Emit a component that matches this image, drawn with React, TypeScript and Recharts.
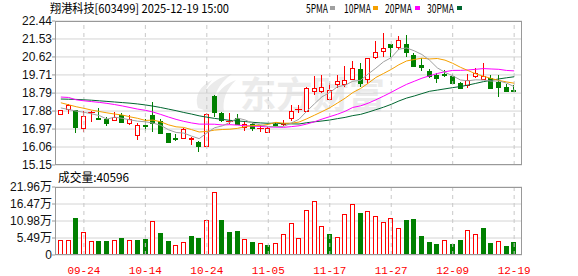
import { ComposedChart, Bar, Line, XAxis, YAxis, CartesianGrid, ReferenceLine } from "recharts";

// 翔港科技 603499 daily candles, 2025-09-19 .. 2025-12-19
const dates = [
  "09-19", "09-22", "09-23", "09-24", "09-25", "09-26", "09-29", "09-30", "10-09", "10-10",
  "10-13", "10-14", "10-15", "10-16", "10-17", "10-20", "10-21", "10-22", "10-23", "10-24",
  "10-27", "10-28", "10-29", "10-30", "10-31", "11-03", "11-04", "11-05", "11-06", "11-07",
  "11-10", "11-11", "11-12", "11-13", "11-14", "11-17", "11-18", "11-19", "11-20", "11-21",
  "11-24", "11-25", "11-26", "11-27", "11-28", "12-01", "12-02", "12-03", "12-04", "12-05",
  "12-08", "12-09", "12-10", "12-11", "12-12", "12-15", "12-16", "12-17", "12-18", "12-19",
];
const opens = [
  17.72, 17.98, 17.93, 17.01, 17.83, 17.52, 17.46, 17.43, 17.7, 17.29,
  16.67, 17.2, 17.68, 17.39, 16.75, 16.51, 16.53, 16.48, 16.33, 16.13,
  18.66, 17.78, 17.38, 17.51, 17.06, 17.22, 17.0, 16.83, 17.21, 17.24,
  17.51, 17.96, 17.88, 18.9, 18.91, 18.48, 19.25, 19.25, 19.49, 19.99,
  19.49, 20.6, 20.94, 21.28, 21.14, 21.26, 20.72, 20.2, 19.91, 19.71,
  19.74, 19.66, 19.32, 19.2, 19.67, 19.49, 19.57, 19.37, 19.11, 18.96,
];
const highs = [
  17.95, 18.25, 17.95, 17.88, 17.86, 18.02, 17.59, 17.83, 17.8, 17.66,
  17.26, 17.48, 18.32, 17.46, 16.78, 16.7, 17.04, 16.58, 16.35, 17.78,
  18.69, 17.85, 17.78, 17.73, 17.33, 17.29, 17.16, 17.05, 17.31, 17.43,
  18.19, 18.19, 19.1, 19.66, 19.71, 19.32, 19.71, 20.18, 20.43, 20.33,
  20.58, 21.44, 21.85, 21.3, 21.7, 21.73, 20.8, 20.55, 19.99, 19.82,
  19.96, 19.74, 19.37, 19.76, 20.05, 20.33, 19.71, 19.71, 19.23, 19.2,
];
const lows = [
  17.7, 17.72, 16.75, 16.8, 17.33, 17.46, 17.14, 17.41, 17.26, 17.17,
  16.41, 16.89, 16.83, 16.75, 16.3, 16.36, 16.47, 16.16, 15.79, 16.1,
  17.6, 17.34, 17.25, 17.18, 16.89, 16.89, 16.83, 16.8, 17.09, 17.14,
  17.38, 17.77, 17.85, 18.69, 18.8, 18.44, 19.03, 19.11, 19.45, 19.08,
  19.25, 20.5, 20.63, 20.63, 20.98, 20.63, 20.11, 19.92, 19.54, 19.32,
  19.59, 19.23, 18.98, 19.03, 19.54, 19.47, 18.98, 18.61, 18.89, 18.83,
];
const closes = [
  17.93, 18.19, 17.09, 17.65, 17.84, 17.5, 17.29, 17.59, 17.34, 17.46,
  17.17, 17.13, 17.26, 16.78, 16.33, 16.49, 16.97, 16.5, 16.13, 17.73,
  17.85, 17.43, 17.4, 17.22, 17.24, 17.01, 17.03, 17.01, 17.19, 17.27,
  17.88, 17.98, 19.03, 19.06, 19.08, 18.95, 19.42, 19.45, 20.05, 19.32,
  20.55, 20.89, 21.06, 21.11, 21.46, 20.86, 20.16, 20.12, 19.66, 19.54,
  19.72, 19.29, 19.06, 19.45, 19.79, 19.66, 19.03, 19.11, 18.91, 18.88,
];
// 成交量, 万
const volumes = [
  4.82, 4.82, 11.9, 7.4, 4.5, 4.5, 4.5, 4.82, 5.47, 4.82,
  4.82, 5.15, 10.83, 7.08, 4.5, 3.11, 4.18, 6.11, 5.47, 11.15,
  20.47, 11.15, 7.4, 7.72, 5.04, 4.18, 3.75, 3.22, 3.86, 6.75,
  10.29, 5.36, 14.69, 17.37, 9.33, 6.75, 5.68, 13.4, 16.6, 13.6,
  14.36, 12.54, 10.61, 11.79, 8.58, 11.26, 11.58, 6.11, 4.18, 3.54,
  4.72, 3.54, 4.82, 7.93, 6.75, 8.68, 3.86, 4.4, 2.89, 4.06,
];
// MA values for bars whose window reaches back before 09-19
const ma5Head = [18.04, 17.96, 17.88, 17.82];
const ma10Head = [18.3, 18.2, 18.1, 18.02, 17.93, 17.86, 17.79, 17.73, 17.68];
const ma20Head = [
  18.59, 18.57, 18.45, 18.4, 18.36, 18.32, 18.27, 18.21, 18.14, 18.06,
  17.98, 17.92, 17.83, 17.71, 17.58, 17.46, 17.36, 17.28, 17.22,
];
const ma30Head = [
  18.49, 18.48, 18.47, 18.45, 18.43, 18.4, 18.37, 18.34, 18.31, 18.28,
  18.24, 18.19, 18.13, 18.06, 17.98, 17.9, 17.81, 17.73, 17.64, 17.57,
  17.51, 17.46, 17.41, 17.38, 17.35, 17.31, 17.28, 17.26, 17.27,
];

const priceTicks = [15.15, 16.06, 16.97, 17.88, 18.79, 19.71, 20.62, 21.53, 22.44];
const volTicks = [0, 5.49, 10.98, 16.47, 21.96];
const labelDates = ["09-24", "10-14", "10-24", "11-05", "11-17", "11-27", "12-09", "12-19"];

const RED = "#ff0000";
const GREEN = "#008000";
const MA_COLORS = { ma5: "#a0a0a0", ma10: "#f5a000", ma20: "#ff00ff", ma30: "#006630" };
const GRID = "#d4d4d4";
const BORDER = "#999";

function movingAvg(n: number, head: number[]) {
  return closes.map((_, i) => {
    if (i < n - 1) return head[i];
    let s = 0;
    for (let k = i - n + 1; k <= i; k++) s += closes[k];
    return s / n;
  });
}

const ma5 = movingAvg(5, ma5Head);
const ma10 = movingAvg(10, ma10Head);
const ma20 = movingAvg(20, ma20Head);
const ma30 = movingAvg(30, ma30Head);

const rows = dates.map((d, i) => ({
  date: d,
  open: opens[i],
  high: highs[i],
  low: lows[i],
  close: closes[i],
  vol: volumes[i],
  volUp: i === 0 ? closes[i] >= opens[i] : closes[i] >= closes[i - 1],
  ma5: ma5[i],
  ma10: ma10[i],
  ma20: ma20[i],
  ma30: ma30[i],
}));

function Candle(props: any) {
  const { x, y, width, height, payload } = props;
  if (x == null || !payload) return null;
  const { open, close, high, low } = payload;
  const k = high > low ? height / (high - low) : 0;
  const py = (v: number) => y + (high - v) * k;
  const mid = Math.floor(x + width / 2);
  const cx = mid + 0.5;
  const up = close >= open;
  const c = up ? RED : GREEN;
  const top = Math.round(py(Math.max(open, close)));
  const bot = Math.round(py(Math.min(open, close)));
  const left = mid - 2;
  let body;
  if (bot - top < 1) {
    body = <line x1={left - 1} x2={left + 6} y1={top + 0.5} y2={top + 0.5} stroke={c} />;
  } else if (up) {
    body = <rect x={left + 0.5} y={top + 0.5} width={4} height={bot - top} fill="#fff" stroke={c} />;
  } else {
    body = <rect x={left} y={top} width={5} height={bot - top + 1} fill={c} />;
  }
  return (
    <g shapeRendering="crispEdges">
      <line x1={cx} x2={cx} y1={Math.round(y)} y2={top} stroke={c} />
      <line x1={cx} x2={cx} y1={bot} y2={Math.round(y + height)} stroke={c} />
      {body}
    </g>
  );
}

function VolBar(props: any) {
  const { x, y, width, height, payload } = props;
  if (x == null || !payload) return null;
  const left = Math.floor(x + width / 2) - 2;
  const top = Math.round(y);
  const h = Math.round(y + height) - top;
  if (payload.volUp) {
    return <rect x={left + 0.5} y={top + 0.5} width={4} height={h - 1} fill="#fff" stroke={RED} shapeRendering="crispEdges" />;
  }
  return <rect x={left} y={top} width={5} height={h} fill={GREEN} shapeRendering="crispEdges" />;
}

const axisFont = { fontSize: 12, fill: "#111", fontFamily: "'Liberation Sans', Arial, 'Noto Sans CJK SC', sans-serif" };

export default function App() {
  return (
    <div style={{ position: "absolute", left: 0, top: 0, width: 578, height: 276, background: "#fff", overflow: "hidden" }}>
      {/* watermark */}
      <svg width={578} height={276} style={{ position: "absolute", left: 0, top: 0 }}>
        <g fill="#ebebeb">
          <path d="M204 112 C198 96 208 80 232 74 C218 84 212 96 214 112 Z" />
          <path d="M214 112 C212 98 220 86 236 80 C226 90 222 100 224 112 Z" />
          <path d="M198 108 C194 96 200 86 212 80 C204 90 202 98 204 110 Z" />
        </g>
        <text x={240} y={108} fontSize={36} fontWeight={700} fill="#ebebeb" textLength={145} lengthAdjust="spacingAndGlyphs"
          fontFamily="'Noto Sans CJK SC', sans-serif">东方财富</text>
      </svg>

      <div style={{ position: "absolute", left: 0, top: 0 }}>
        <ComposedChart width={578} height={174} data={rows} margin={{ top: 21, right: 56, bottom: 9, left: 0 }}>
          <CartesianGrid vertical={false} stroke={GRID} />
          <XAxis dataKey="date" hide padding={{ left: 2, right: 4 }} />
          <YAxis
            domain={[15.15, 22.44]}
            ticks={priceTicks}
            interval={0}
            allowDataOverflow
            width={55}
            axisLine={false}
            tickSize={3}
            tickMargin={0}
            tickLine={{ stroke: BORDER }}
            tick={axisFont}
            tickFormatter={(v: number) => v.toFixed(2)}
          />
          {labelDates.map((d) => (
            <ReferenceLine key={d} x={d} stroke="#c8c8c8" strokeDasharray="4 4" />
          ))}
          <Bar dataKey={(r: any) => [r.low, r.high]} barSize={5} shape={(p: any) => <Candle {...p} />} isAnimationActive={false} />
          <Line dataKey="ma30" stroke={MA_COLORS.ma30} dot={false} strokeWidth={1} isAnimationActive={false} />
          <Line dataKey="ma20" stroke={MA_COLORS.ma20} dot={false} strokeWidth={1} isAnimationActive={false} />
          <Line dataKey="ma10" stroke={MA_COLORS.ma10} dot={false} strokeWidth={1} isAnimationActive={false} />
          <Line dataKey="ma5" stroke={MA_COLORS.ma5} dot={false} strokeWidth={1} isAnimationActive={false} />
        </ComposedChart>
      </div>

      <div style={{ position: "absolute", left: 0, top: 170 }}>
        <ComposedChart width={578} height={106} data={rows} margin={{ top: 17, right: 56, bottom: 0, left: 0 }}>
          <CartesianGrid vertical={false} stroke={GRID} />
          <XAxis
            dataKey="date"
            padding={{ left: 2, right: 4 }}
            ticks={labelDates}
            interval={0}
            height={21}
            axisLine={false}
            tickLine={false}
            tickMargin={5}
            tick={{ fontSize: 11, fill: RED, fontFamily: "'Liberation Mono', monospace" }}
          />
          <YAxis
            domain={[0, 21.96]}
            ticks={volTicks}
            interval={0}
            allowDataOverflow
            width={55}
            axisLine={false}
            tickSize={3}
            tickMargin={0}
            tickLine={{ stroke: BORDER }}
            tick={axisFont}
            tickFormatter={(v: number) => (v === 0 ? "0" : `${v.toFixed(2)}万`)}
          />
          {labelDates.map((d) => (
            <ReferenceLine key={d} x={d} stroke="#c8c8c8" strokeDasharray="4 4" />
          ))}
          <Bar dataKey="vol" barSize={5} shape={(p: any) => <VolBar {...p} />} isAnimationActive={false} />
        </ComposedChart>
      </div>

      {/* frames, title and legend */}
      <svg width={578} height={276} style={{ position: "absolute", left: 0, top: 0, pointerEvents: "none" }}>
        <g fill="none" stroke={BORDER} shapeRendering="crispEdges">
          <rect x={55.5} y={21.5} width={466} height={143} />
          <rect x={55.5} y={187.5} width={466} height={67} />
        </g>
        <g fontFamily="'Noto Sans CJK SC', sans-serif" fontSize={12} fill="#000">
          <text x={50} y={13} textLength={179} lengthAdjust="spacingAndGlyphs">翔港科技[603499] 2025-12-19 15:00</text>
          <text x={306} y={13} textLength={22} lengthAdjust="spacingAndGlyphs">5PMA</text>
          <text x={344} y={13} textLength={27} lengthAdjust="spacingAndGlyphs">10PMA</text>
          <text x={385} y={13} textLength={27} lengthAdjust="spacingAndGlyphs">20PMA</text>
          <text x={427} y={13} textLength={27} lengthAdjust="spacingAndGlyphs">30PMA</text>
          <text x={58} y={182} textLength={71} lengthAdjust="spacingAndGlyphs">成交量:40596</text>
        </g>
        <rect x={330} y={6} width={5} height={4} fill={MA_COLORS.ma5} />
        <rect x={373} y={6} width={5} height={4} fill={MA_COLORS.ma10} />
        <rect x={415} y={6} width={5} height={4} fill={MA_COLORS.ma20} />
        <rect x={457} y={6} width={5} height={4} fill={MA_COLORS.ma30} />
      </svg>
    </div>
  );
}
